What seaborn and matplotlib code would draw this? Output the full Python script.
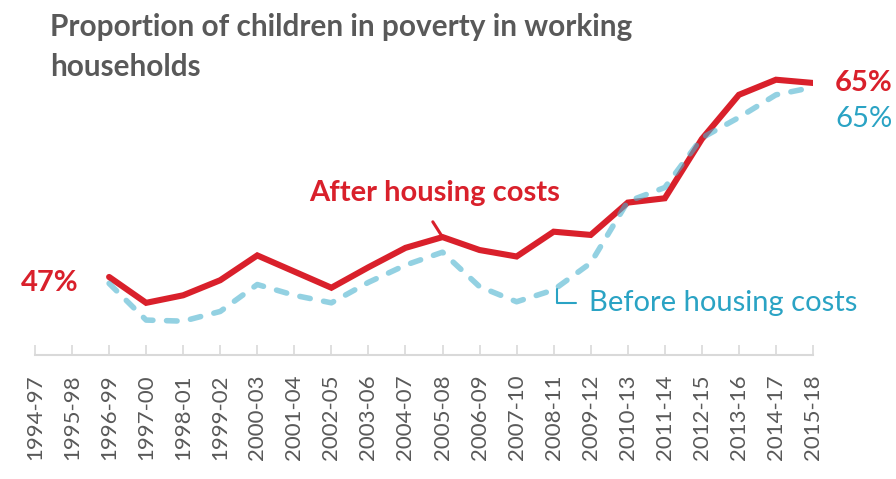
import matplotlib
matplotlib.use("Agg")
import matplotlib.pyplot as plt
import seaborn as sns
import numpy as np
import pandas as pd

categories = ["1994-97", "1995-98", "1996-99", "1997-00", "1998-01", "1999-02",
              "2000-03", "2001-04", "2002-05", "2003-06", "2004-07", "2005-08",
              "2006-09", "2007-10", "2008-11", "2009-12", "2010-13", "2011-14",
              "2012-15", "2013-16", "2014-17", "2015-18"]
after_hc = [None, None, 47.0, 44.6, 45.3, 46.7, 49.0, 47.5, 46.0, 47.9, 49.7, 50.7,
            49.5, 48.9, 51.2, 50.9, 53.9, 54.3, 59.8, 63.9, 65.3, 65.0]
before_hc = [None, None, 46.4, 43.0, 42.9, 43.8, 46.3, 45.3, 44.6, 46.5, 48.1, 49.3,
             46.1, 44.7, 45.8, 48.3, 54.0, 55.3, 59.9, 61.8, 63.9, 64.6]

title = "Proportion of children in poverty in working\nhouseholds"

RED = "#d9202b"
BLUE_LINE = "#4bb3cf"
BLUE_TEXT = "#2aa3c4"
GREY = "#595959"

sns.set_theme(style="white")
plt.rcParams['font.family'] = ['Lato', 'DejaVu Sans']

df = pd.DataFrame({
    "x": np.arange(len(categories)),
    "after": pd.array(after_hc, dtype="Float64").astype(float),
    "before": pd.array(before_hc, dtype="Float64").astype(float),
})

W, H = 896, 479
fig = plt.figure(figsize=(W / 100, H / 100), dpi=100)
ax = fig.add_axes([35 / W, 124 / H, 778 / W, 295 / H])

sns.lineplot(data=df, x="x", y="before", ax=ax, color=BLUE_LINE, alpha=0.6,
             linewidth=4.0, linestyle=(0, (1.9, 2.45)), dash_capstyle="round",
             zorder=3)
sns.lineplot(data=df, x="x", y="after", ax=ax, color=RED, linewidth=4.4,
             solid_capstyle="round", solid_joinstyle="miter", zorder=2)
ax.lines[0].set_zorder(3)
ax.lines[1].set_zorder(2)

ax.set_xlim(0, len(categories) - 1)
ax.set_ylim(39.76, 67.13)
ax.set_xlabel("")
ax.set_ylabel("")
ax.set_yticks([])
for s in ["top", "right", "left"]:
    ax.spines[s].set_visible(False)
ax.spines["bottom"].set_color("#d9d9d9")
ax.spines["bottom"].set_linewidth(1.5)
ax.set_xticks(np.arange(len(categories)))
ax.set_xticklabels(categories, rotation=90, color=GREY, fontsize=16)
ax.tick_params(axis="x", direction="in", length=7, width=1.2, color="#d9d9d9",
               pad=14, bottom=True)
ax.patch.set_alpha(0)

# title
fig.text(50 / W, 1 - 13 / H, title, ha="left", va="top", fontsize=21.4,
         fontweight="bold", color=GREY, linespacing=1.5)

# annotations
last = len(categories) - 1
FS = 21
ax.annotate("47%", xy=(2, after_hc[2]), xytext=(-22, -4), textcoords="offset points",
            ha="right", va="center", fontsize=FS, fontweight="bold", color=RED)
ax.annotate("65%", xy=(last, after_hc[last]), xytext=(16, 0), textcoords="offset points",
            ha="left", va="center", fontsize=FS, fontweight="bold", color=RED)
ax.annotate("65%", xy=(last, before_hc[last]), xytext=(16, -23), textcoords="offset points",
            ha="left", va="center", fontsize=FS, color=BLUE_TEXT)

ax.annotate("After housing costs", xy=(11, after_hc[11]), xytext=(-6, 31.5),
            textcoords="offset points", ha="center", va="center", fontsize=FS,
            fontweight="bold", color=RED)
ax.annotate("", xy=(11, after_hc[11]), xytext=(-7, 11), textcoords="offset points",
            arrowprops=dict(arrowstyle="-", color=RED, lw=2.2, shrinkA=0, shrinkB=0))

ax.annotate("Before housing costs", xy=(14.1, 45.9), xytext=(23, -10),
            textcoords="offset points", ha="left", va="center", fontsize=FS,
            color=BLUE_TEXT,
            arrowprops=dict(arrowstyle="-", color=BLUE_TEXT, lw=1.5, shrinkA=7, shrinkB=0,
                            connectionstyle="angle,angleA=0,angleB=90,rad=0"))

fig.savefig("out.png", dpi=100)
